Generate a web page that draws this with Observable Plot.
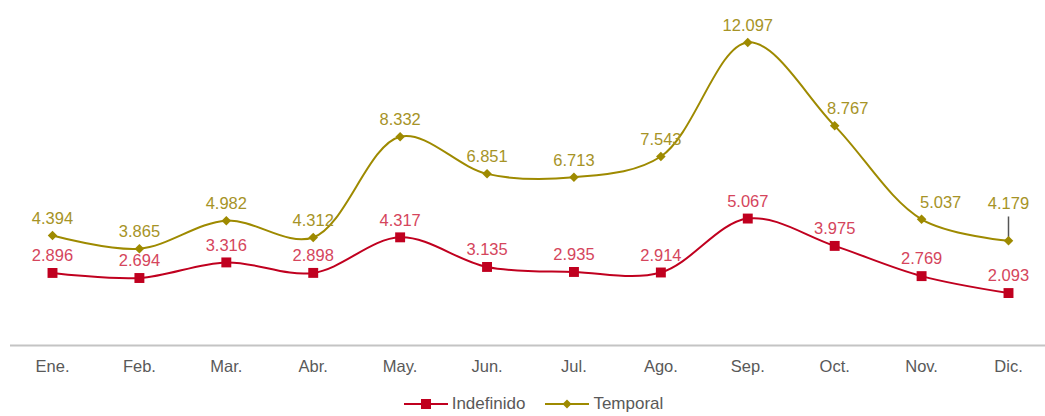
<!DOCTYPE html>
<html>
<head>
<meta charset="utf-8">
<script src="https://cdn.jsdelivr.net/npm/d3@7"></script>
<script src="https://cdn.jsdelivr.net/npm/@observablehq/plot@0.6"></script>
<style>
  body { margin: 0; background: #fff; font-family: "Liberation Sans", Arial, sans-serif; }
  #legend { display: flex; justify-content: center; align-items: center; height: 24px; padding-left: 22px; font-size: 17px; color: #595959; }
  .item { display: flex; align-items: center; margin: 0 10px; }
  .item svg { margin-right: 4px; }
</style>
</head>
<body>
<div id="chart"></div>
<div id="legend"></div>
<script>
const months = ["Ene.", "Feb.", "Mar.", "Abr.", "May.", "Jun.", "Jul.", "Ago.", "Sep.", "Oct.", "Nov.", "Dic."];
const indefinido = [2.896, 2.694, 3.316, 2.898, 4.317, 3.135, 2.935, 2.914, 5.067, 3.975, 2.769, 2.093];
const temporal = [4.394, 3.865, 4.982, 4.312, 8.332, 6.851, 6.713, 7.543, 12.097, 8.767, 5.037, 4.179];
const seriesNames = ["Indefinido", "Temporal"];

// label nudges (layout only)
const tempLabelDx = [0, 0, 0, 0, 0, 0, 0, 0, 0, 13, 19, 0];
const tempLabelDy = [0, 0, 0, 0, 0, 0, 0, 0, 0, 0, 0, -20];

const colInd = "#c0001f", colIndLbl = "#d5455c";
const colTem = "#9e8a00", colTemLbl = "#a69326";

const fmt = v => d3.format(".3f")(v);

const ind = months.map((m, i) => ({m, v: indefinido[i], i}));
const tem = months.map((m, i) => ({m, v: temporal[i], i}));

const FS = 16.5;

const plot = Plot.plot({
  width: 1045,
  height: 392,
  marginLeft: 10,
  marginRight: 0,
  marginTop: 0,
  marginBottom: 47,
  x: {type: "point", domain: months, range: [52, 1008], padding: 0, round: false, label: null},
  y: {domain: [0, 13.77], axis: null},
  style: {fontFamily: "'Liberation Sans', Arial, sans-serif", background: "#fff"},
  marks: [
    Plot.ruleY([0], {stroke: "#c4c4c4", strokeWidth: 2}),
    Plot.axisX({tickSize: 0, tickPadding: 15, fontSize: FS, fill: "#595959", label: null}),
    Plot.line(tem, {x: "m", y: "v", stroke: colTem, strokeWidth: 2, curve: "catmull-rom"}),
    Plot.line(ind, {x: "m", y: "v", stroke: colInd, strokeWidth: 2, curve: "catmull-rom"}),
    Plot.ruleX(tem.filter(d => tempLabelDy[d.i] !== 0), {x: "m", y1: d => d.v + 0.08, y2: d => d.v + 0.95, stroke: "#555", strokeWidth: 1.5}),
    Plot.dot(tem, {x: "m", y: "v", symbol: "diamond2", r: 4.3, fill: colTem, stroke: "none"}),
    Plot.dot(ind, {x: "m", y: "v", symbol: "square", r: 5.6, fill: colInd, stroke: "none"}),
    ...tem.map(d => Plot.text([d], {x: "m", y: "v", text: d => fmt(d.v), dy: -17 + tempLabelDy[d.i], dx: tempLabelDx[d.i], fill: colTemLbl, fontSize: FS, lineAnchor: "middle"})),
    Plot.text(ind, {x: "m", y: "v", text: d => fmt(d.v), dy: -17, fill: colIndLbl, fontSize: FS, lineAnchor: "middle"})
  ]
});
document.getElementById("chart").appendChild(plot);

const legend = document.getElementById("legend");
const legItems = [
  {name: seriesNames[0], color: colInd, sym: '<rect x="17" y="4" width="10" height="10"/>'},
  {name: seriesNames[1], color: colTem, sym: '<path d="M22 4.5 L26.5 9 L22 13.5 L17.5 9 Z"/>'}
];
legItems.forEach(it => {
  const div = document.createElement("div");
  div.className = "item";
  div.innerHTML = `<svg width="44" height="18"><line x1="0" x2="44" y1="9" y2="9" stroke="${it.color}" stroke-width="2"/><g fill="${it.color}">${it.sym}</g></svg><span>${it.name}</span>`;
  legend.appendChild(div);
});
</script>
</body>
</html>
